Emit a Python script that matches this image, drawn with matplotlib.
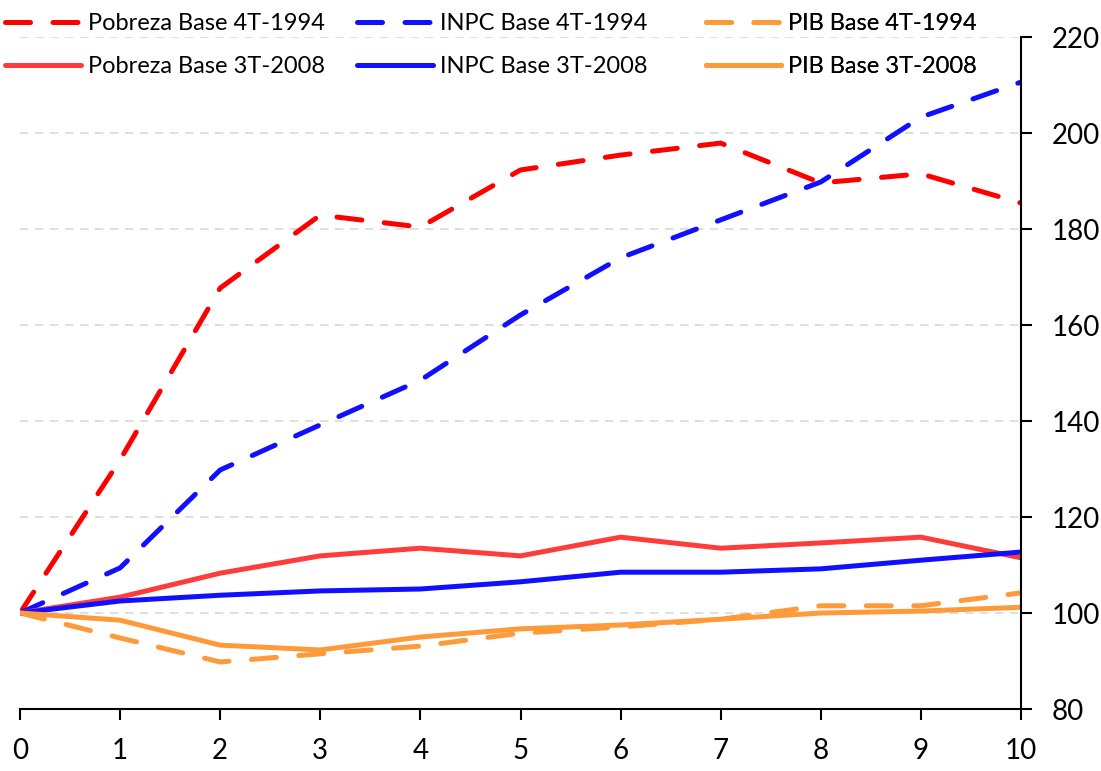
import matplotlib.pyplot as plt

x = list(range(11))
pobreza_94 = [100, 131.9, 167.7, 182.9, 180.4, 192.3, 195.4, 197.9, 189.6, 191.5, 185.4]
inpc_94 = [100, 109.4, 129.8, 139.2, 148.5, 162.1, 174.0, 181.9, 189.8, 203.3, 210.6]
pib_94 = [100, 94.8, 89.8, 91.5, 93.1, 95.8, 97.1, 98.7, 101.5, 101.5, 104.2]
pobreza_08 = [100, 103.3, 108.3, 111.9, 113.5, 111.9, 115.8, 113.5, 114.6, 115.8, 111.5]
inpc_08 = [100, 102.5, 103.7, 104.6, 105.0, 106.5, 108.5, 108.5, 109.2, 111.0, 112.7]
pib_08 = [100, 98.5, 93.3, 92.3, 95.0, 96.7, 97.5, 98.7, 100.0, 100.4, 101.2]

plt.rcParams['font.family'] = ['Lato', 'DejaVu Sans']

fig = plt.figure(figsize=(11.01, 7.71), dpi=100)
ax = fig.add_axes([20 / 1101, 62 / 771, 1001 / 1101, 672 / 771])

lw = 3.6
dash = dict(linestyle=(0, (5, 4.5)), dash_capstyle='round')
l1, = ax.plot(x, pobreza_94, color='#ff0000', lw=lw, label='Pobreza Base 4T-1994', **dash)
l2, = ax.plot(x, inpc_94, color='#1010ff', lw=lw, label='INPC Base 4T-1994', **dash)
l3, = ax.plot(x, pib_94, color='#ff9a3a', lw=lw, label='PIB Base 4T-1994', **dash)
l4, = ax.plot(x, pobreza_08, color='#ff3c3c', lw=lw, label='Pobreza Base 3T-2008', solid_capstyle='round')
l5, = ax.plot(x, inpc_08, color='#1010ff', lw=lw, label='INPC Base 3T-2008', solid_capstyle='round')
l6, = ax.plot(x, pib_08, color='#ff9a3a', lw=lw, label='PIB Base 3T-2008', solid_capstyle='round')

ax.set_xlim(0, 10)
ax.set_ylim(80, 220)
ax.set_xticks(x)
ax.set_yticks(range(80, 221, 20))
ax.yaxis.tick_right()
for sp in ['left', 'top']:
    ax.spines[sp].set_visible(False)
ax.spines['right'].set_linewidth(1.5)
ax.spines['bottom'].set_linewidth(1.5)
ax.tick_params(axis='both', direction='out', length=8, width=1.5, labelsize=20)
ax.tick_params(axis='x', pad=13)
ax.tick_params(axis='y', pad=14)
for v in range(100, 221, 20):
    ax.axhline(v, color='#d9d9d9', lw=1.2, linestyle=(0, (5, 4)), zorder=0)

# one legend per column so the columns sit at fixed positions
cols = [(l1, l4), (l2, l5), (l3, l6)]
xpos = [-0.015, 0.337, 0.685]
for hs, xp in zip(cols, xpos):
    leg = ax.legend(hs, [h.get_label() for h in hs], loc='upper left',
                    bbox_to_anchor=(xp, 1.036), frameon=False, fontsize=17,
                    handlelength=3.2, handletextpad=0.3, labelspacing=0.95,
                    borderpad=0, borderaxespad=0)
    ax.add_artist(leg)
fig.savefig('out.png', dpi=100)
